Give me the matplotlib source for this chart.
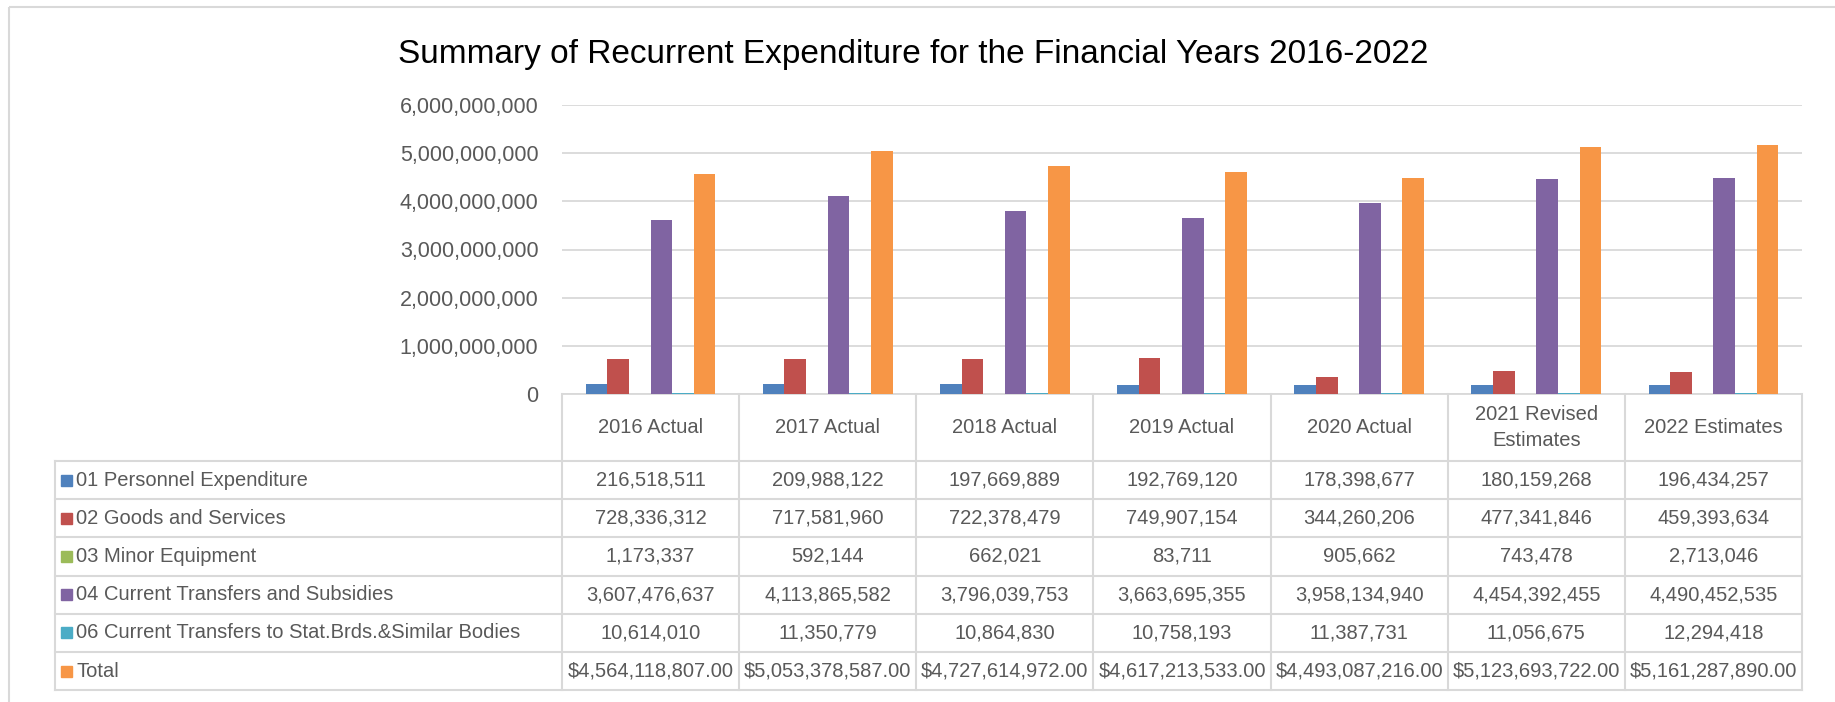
import matplotlib
matplotlib.use("Agg")
import matplotlib.pyplot as plt
from matplotlib.lines import Line2D
from matplotlib.patches import Rectangle
from matplotlib.ticker import FuncFormatter
import numpy as np

categories = ["2016 Actual", "2017 Actual", "2018 Actual", "2019 Actual",
              "2020 Actual", "2021 Revised\nEstimates", "2022 Estimates"]
series_names = ["01 Personnel Expenditure", "02 Goods and Services",
                "03 Minor Equipment", "04 Current Transfers and Subsidies",
                "06 Current Transfers to Stat.Brds.&Similar Bodies", "Total"]
personnel = [216518511, 209988122, 197669889, 192769120, 178398677, 180159268, 196434257]
goods = [728336312, 717581960, 722378479, 749907154, 344260206, 477341846, 459393634]
minor_equipment = [1173337, 592144, 662021, 83711, 905662, 743478, 2713046]
transfers = [3607476637, 4113865582, 3796039753, 3663695355, 3958134940, 4454392455, 4490452535]
stat_bodies = [10614010, 11350779, 10864830, 10758193, 11387731, 11056675, 12294418]
total = [4564118807.00, 5053378587.00, 4727614972.00, 4617213533.00,
         4493087216.00, 5123693722.00, 5161287890.00]
colors = ["#4F81BD", "#C0504D", "#9BBB59", "#8064A2", "#4BACC6", "#F79646"]

series = [personnel, goods, minor_equipment, transfers, stat_bodies, total]

plt.rcParams['font.family'] = ['Liberation Sans Narrow', 'Liberation Sans', 'DejaVu Sans']

W, H = 1835, 702
fig = plt.figure(figsize=(W / 100, H / 100), dpi=100)

# pixel layout
px_left, px_right = 562, 1802
px_zero, px_top = 394, 105
gray_txt = "#595959"
line_c = "#D9D9D9"

ax = fig.add_axes([px_left / W, 1 - px_zero / H, (px_right - px_left) / W, (px_zero - px_top) / H])
n_cat = len(categories)
n_ser = len(series)
gap = 2.19
bw = 1.0 / (n_ser + gap)
x = np.arange(n_cat)
for i, (vals, c) in enumerate(zip(series, colors)):
    offs = (i - (n_ser - 1) / 2) * bw
    ax.bar(x + offs, vals, width=bw, color=c, zorder=3)
ax.set_xlim(-0.5, n_cat - 0.5)
ax.set_ylim(0, 6e9)
ax.set_yticks(np.arange(0, 6.01e9, 1e9))
ax.yaxis.set_major_formatter(FuncFormatter(lambda v, p: f"{int(round(v)):,}"))
ax.grid(axis='y', color=line_c, linewidth=1.3, zorder=0)
for s in ['top', 'right', 'left']:
    ax.spines[s].set_visible(False)
ax.spines['bottom'].set_color(line_c)
ax.spines['bottom'].set_linewidth(1.3)
ax.set_xticks([])
ax.tick_params(axis='y', length=0, labelsize=15.5, colors=gray_txt, pad=17)

# overlay for table & title in pixel coords
ov = fig.add_axes([0, 0, 1, 1], zorder=5)
ov.set_xlim(0, W)
ov.set_ylim(H, 0)
ov.axis('off')
ov.patch.set_alpha(0)

ov.add_patch(Rectangle((9, 7), W + 20, H + 20, fill=False, edgecolor=line_c, linewidth=1.5))

ov.text(W / 2 - 4, 55, "Summary of Recurrent Expenditure for the Financial Years 2016-2022",
        ha='center', va='center', fontsize=24, color='black')

col_w = (px_right - px_left) / n_cat
lab_left = 55
header_bottom = 461
row_h = 38.2
rows_y = [header_bottom + i * row_h for i in range(n_ser + 1)]
tbl_bottom = rows_y[-1]

lw = 1.5
# verticals
for j in range(n_cat + 1):
    xx = px_left + j * col_w
    ov.add_line(Line2D([xx, xx], [px_zero, tbl_bottom], color=line_c, lw=lw))
ov.add_line(Line2D([lab_left, lab_left], [header_bottom, tbl_bottom], color=line_c, lw=lw))
# horizontals
for yy in rows_y:
    ov.add_line(Line2D([lab_left, px_right], [yy, yy], color=line_c, lw=lw))

fs = 14.5
for j, cat in enumerate(categories):
    xc = px_left + (j + 0.5) * col_w
    ov.text(xc, (px_zero + header_bottom) / 2, cat, ha='center', va='center',
            fontsize=fs, color=gray_txt, linespacing=1.5)

for i, (name, vals, c) in enumerate(zip(series_names, series, colors)):
    yc = (rows_y[i] + rows_y[i + 1]) / 2
    ov.add_patch(Rectangle((61, yc - 5.5), 11, 11, color=c))
    ov.text(76, yc, name, ha='left', va='center', fontsize=fs, color=gray_txt)
    for j, v in enumerate(vals):
        xc = px_left + (j + 0.5) * col_w
        s = f"${v:,.2f}" if name == "Total" else f"{int(v):,}"
        ov.text(xc, yc, s, ha='center', va='center', fontsize=fs, color=gray_txt)

fig.savefig("out.png", dpi=100)
